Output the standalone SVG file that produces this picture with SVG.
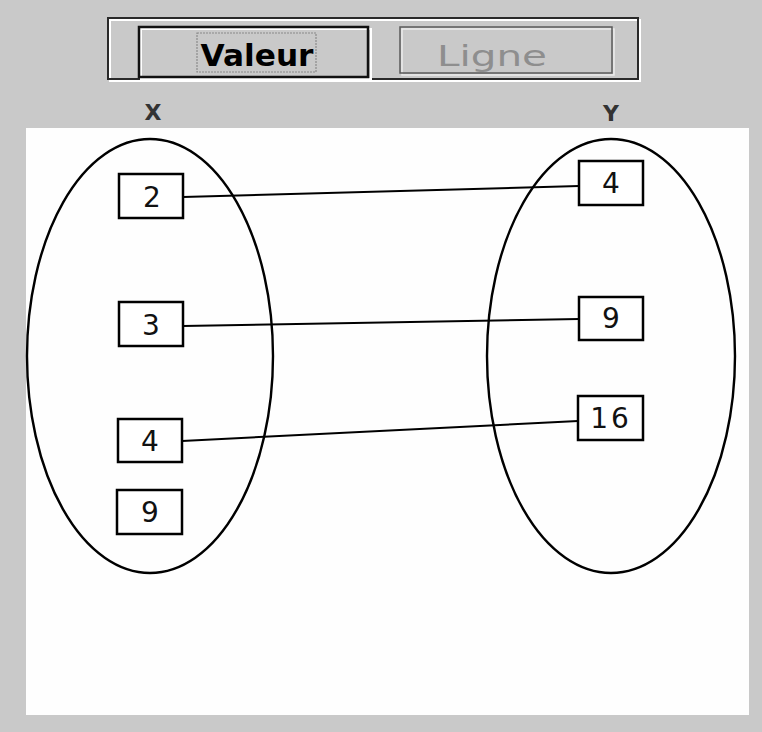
<svg xmlns="http://www.w3.org/2000/svg" width="762" height="732" viewBox="0 0 762 732">
  <style>
    .etch-dark { fill: none; stroke: #2a2a2a; stroke-width: 2; }
    .etch-light { fill: none; stroke: #ffffff; stroke-width: 2; }
    .set { fill: none; stroke: #000; stroke-width: 2.4; }
    .box { fill: #fff; stroke: #000; stroke-width: 2.5; }
    .num { font-family: "DejaVu Sans", "Liberation Sans", sans-serif; font-size: 28px; fill: #111; text-anchor: middle; }
    .axis { font-family: "DejaVu Sans", "Liberation Sans", sans-serif; font-size: 22px; font-weight: bold; fill: #333; text-anchor: middle; }
    .edge { stroke: #000; stroke-width: 2; fill: none; }
  </style>

  <!-- window background -->
  <rect x="0" y="0" width="762" height="732" fill="#c9c9c9"/>

  <!-- toolbar with the two mode buttons -->
  <g id="toolbar">
    <rect class="etch-light" x="110" y="20" width="530" height="61"/>
    <rect class="etch-dark" x="108" y="18" width="530" height="61"/>
    <g id="btn-valeur">
      <rect class="etch-light" x="141" y="29" width="230" height="50"/>
      <rect x="139" y="27" width="229" height="50" fill="none" stroke="#111" stroke-width="2.5"/>
      <rect x="197" y="33" width="119" height="39" fill="none" stroke="#8a8a8a" stroke-width="1.2" stroke-dasharray="2 1"/>
      <text x="257" y="66" font-family="DejaVu Sans, Liberation Sans, sans-serif" font-size="30" font-weight="bold" fill="#000" text-anchor="middle" textLength="113" lengthAdjust="spacingAndGlyphs">Valeur</text>
    </g>
    <g id="btn-ligne">
      <rect x="402" y="29" width="212" height="46" fill="none" stroke="#ececec" stroke-width="1.5"/>
      <rect x="400" y="27" width="212" height="46" fill="none" stroke="#5a5a5a" stroke-width="1.5"/>
      <text x="492" y="66" font-family="DejaVu Sans, Liberation Sans, sans-serif" font-size="29" fill="#8e8e8e" text-anchor="middle" textLength="110" lengthAdjust="spacingAndGlyphs">Ligne</text>
    </g>
  </g>

  <!-- set captions -->
  <text class="axis" x="153" y="120">X</text>
  <text class="axis" x="611" y="121">Y</text>

  <!-- drawing area -->
  <rect x="26" y="128" width="723" height="587" fill="#fefefe"/>

  <!-- sets -->
  <g id="set-x">
    <ellipse class="set" cx="150" cy="356" rx="123" ry="217"/>
  </g>
  <g id="set-y">
    <ellipse class="set" cx="611" cy="356" rx="124" ry="217"/>
  </g>

  <!-- mapping x -> y -->
  <g id="connectors">
    <line class="edge" x1="183" y1="197" x2="579" y2="186"/>
    <line class="edge" x1="183" y1="326" x2="579" y2="319"/>
    <line class="edge" x1="182" y1="441" x2="578" y2="421"/>
  </g>

  <!-- elements of X -->
  <g id="x-2">
    <rect class="box" x="119" y="174" width="64" height="44"/>
    <text class="num" x="152" y="207">2</text>
  </g>
  <g id="x-3">
    <rect class="box" x="119" y="302" width="64" height="44"/>
    <text class="num" x="151" y="335">3</text>
  </g>
  <g id="x-4">
    <rect class="box" x="118" y="419" width="64" height="43"/>
    <text class="num" x="150" y="451">4</text>
  </g>
  <g id="x-9">
    <rect class="box" x="117" y="490" width="65" height="44"/>
    <text class="num" x="150" y="522">9</text>
  </g>

  <!-- elements of Y -->
  <g id="y-4">
    <rect class="box" x="579" y="161" width="64" height="44"/>
    <text class="num" x="611" y="193">4</text>
  </g>
  <g id="y-9">
    <rect class="box" x="579" y="297" width="64" height="43"/>
    <text class="num" x="611" y="328">9</text>
  </g>
  <g id="y-16">
    <rect class="box" x="578" y="396" width="65" height="44"/>
    <text class="num" x="611" y="428" letter-spacing="3">16</text>
  </g>
</svg>
